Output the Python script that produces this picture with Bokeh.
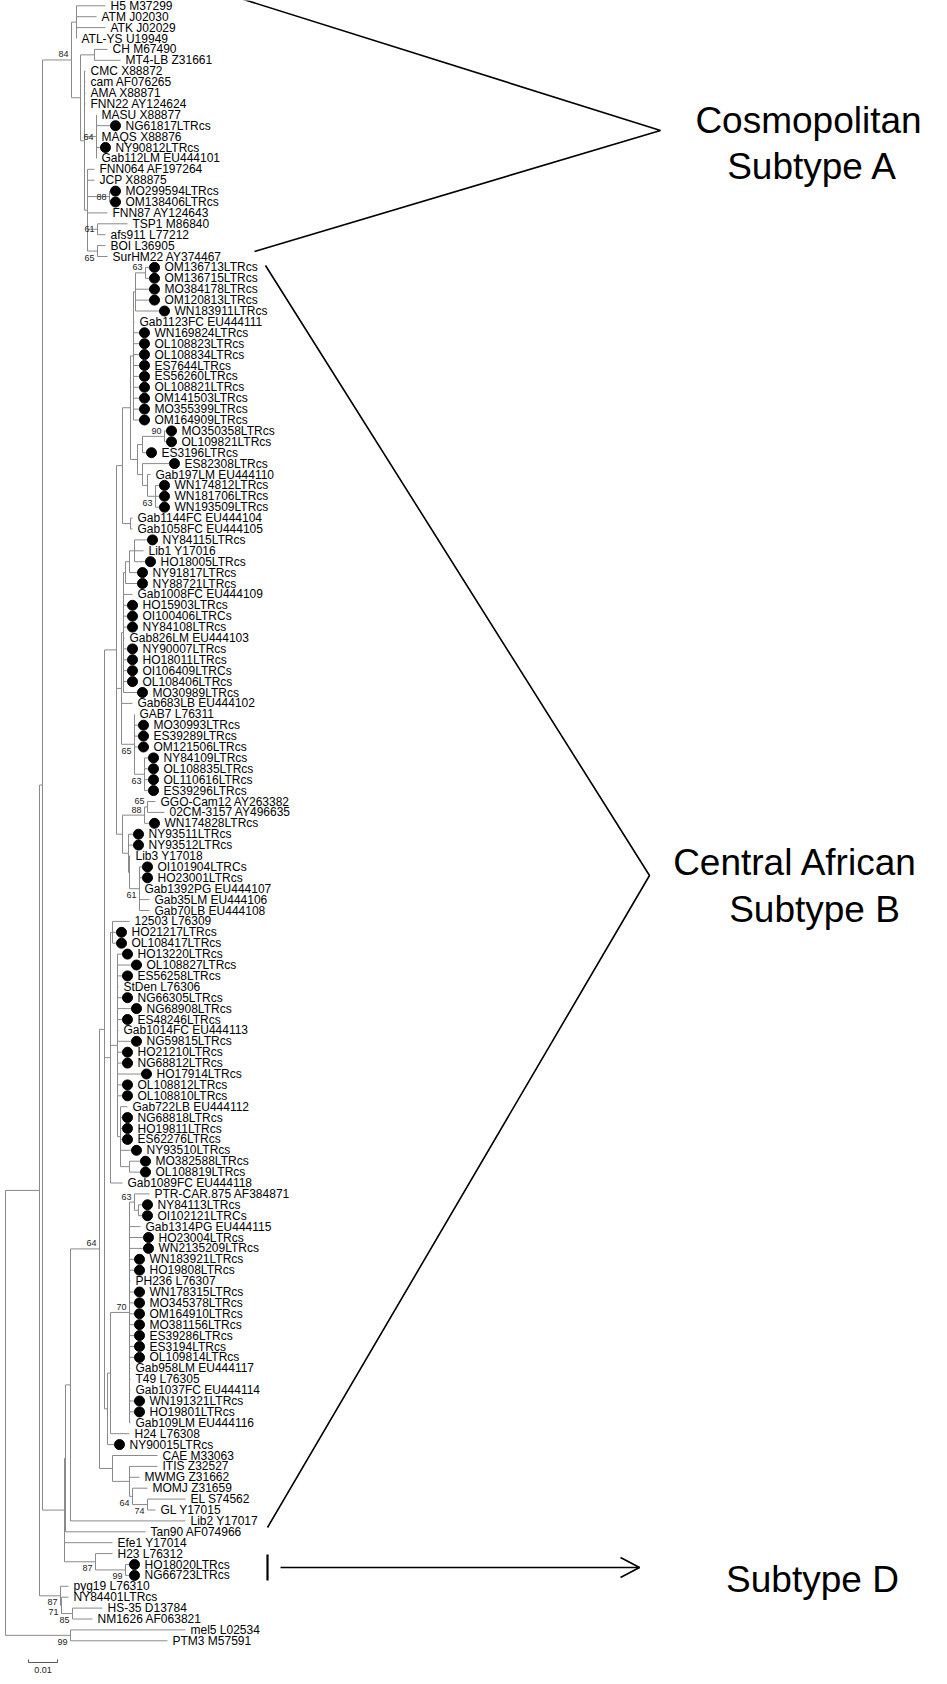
from bokeh.plotting import figure
from bokeh.models import Range1d
from bokeh.embed import file_html
from bokeh.resources import INLINE
from bokeh.core.properties import value

# ---------------- data ----------------
# tips: label, depth from root (units: 0.01 subst./site = 29 units), parent node, filled-circle marker
leaf_labels = [
    "H5 M37299", "ATM J02030", "ATK J02029", "ATL-YS U19949", "CH M67490", "MT4-LB Z31661",
    "CMC X88872", "cam AF076265", "AMA X88871", "FNN22 AY124624", "MASU X88877", "NG61817LTRcs",
    "MAQS X88876", "NY90812LTRcs", "Gab112LM EU444101", "FNN064 AF197264", "JCP X88875",
    "MO299594LTRcs", "OM138406LTRcs", "FNN87 AY124643", "TSP1 M86840", "afs911 L77212",
    "BOI L36905", "SurHM22 AY374467", "OM136713LTRcs", "OM136715LTRcs", "MO384178LTRcs",
    "OM120813LTRcs", "WN183911LTRcs", "Gab1123FC EU444111", "WN169824LTRcs", "OL108823LTRcs",
    "OL108834LTRcs", "ES7644LTRcs", "ES56260LTRcs", "OL108821LTRcs", "OM141503LTRcs",
    "MO355399LTRcs", "OM164909LTRcs", "MO350358LTRcs", "OL109821LTRcs", "ES3196LTRcs",
    "ES82308LTRcs", "Gab197LM EU444110", "WN174812LTRcs", "WN181706LTRcs", "WN193509LTRcs",
    "Gab1144FC EU444104", "Gab1058FC EU444105", "NY84115LTRcs", "Lib1 Y17016", "HO18005LTRcs",
    "NY91817LTRcs", "NY88721LTRcs", "Gab1008FC EU444109", "HO15903LTRcs", "OI100406LTRCs",
    "NY84108LTRcs", "Gab826LM EU444103", "NY90007LTRcs", "HO18011LTRcs", "OI106409LTRCs",
    "OL108406LTRcs", "MO30989LTRcs", "Gab683LB EU444102", "GAB7 L76311", "MO30993LTRcs",
    "ES39289LTRcs", "OM121506LTRcs", "NY84109LTRcs", "OL108835LTRcs", "OL110616LTRcs",
    "ES39296LTRcs", "GGO-Cam12 AY263382", "02CM-3157 AY496635", "WN174828LTRcs",
    "NY93511LTRcs", "NY93512LTRcs", "Lib3 Y17018", "OI101904LTRCs", "HO23001LTRcs",
    "Gab1392PG EU444107", "Gab35LM EU444106", "Gab70LB EU444108", "12503 L76309",
    "HO21217LTRcs", "OL108417LTRcs", "HO13220LTRcs", "OL108827LTRcs", "ES56258LTRcs",
    "StDen L76306", "NG66305LTRcs", "NG68908LTRcs", "ES48246LTRcs", "Gab1014FC EU444113",
    "NG59815LTRcs", "HO21210LTRcs", "NG68812LTRcs", "HO17914LTRcs", "OL108812LTRcs",
    "OL108810LTRcs", "Gab722LB EU444112", "NG68818LTRcs", "HO19811LTRcs", "ES62276LTRcs",
    "NY93510LTRcs", "MO382588LTRcs", "OL108819LTRcs", "Gab1089FC EU444118",
    "PTR-CAR.875 AF384871", "NY84113LTRcs", "OI102121LTRCs", "Gab1314PG EU444115",
    "HO23004LTRcs", "WN2135209LTRcs", "WN183921LTRcs", "HO19808LTRcs", "PH236 L76307",
    "WN178315LTRcs", "MO345378LTRcs", "OM164910LTRcs", "MO381156LTRcs", "ES39286LTRcs",
    "ES3194LTRcs", "OL109814LTRcs", "Gab958LM EU444117", "T49 L76305", "Gab1037FC EU444114",
    "WN191321LTRcs", "HO19801LTRcs", "Gab109LM EU444116", "H24 L76308", "NY90015LTRcs",
    "CAE M33063", "ITIS Z32527", "MWMG Z31662", "MOMJ Z31659", "EL S74562", "GL Y17015",
    "Lib2 Y17017", "Tan90 AF074966", "Efe1 Y17014", "H23 L76312", "HO18020LTRcs",
    "NG66723LTRcs", "pyg19 L76310", "NY84401LTRcs", "HS-35 D13784", "NM1626 AF063821",
    "mel5 L02534", "PTM3 M57591",
]
leaf_depth = [
    100, 91, 100, 71, 102, 115, 80, 80, 80, 80, 91, 105, 91, 95, 91, 89, 89, 105, 105, 102,
    122, 100, 100, 102, 144, 144, 144, 144, 154, 129, 134, 134, 134, 134, 134, 134, 134, 134,
    134, 161, 161, 141, 164, 145, 154, 154, 154, 127, 127, 142, 138, 140, 132, 132, 127, 122,
    122, 122, 119, 122, 122, 122, 122, 132, 127, 129, 133, 133, 133, 143, 143, 143, 143, 150,
    159, 144, 128, 128, 125, 137, 137, 134, 144, 144, 124, 111, 111, 117, 126, 117, 113, 117,
    126, 117, 113, 126, 117, 117, 136, 117, 117, 122, 117, 117, 117, 126, 135, 135, 117, 144,
    137, 137, 135, 138, 138, 129, 129, 125, 129, 129, 129, 129, 129, 129, 129, 125, 125, 125,
    129, 129, 125, 124, 109, 152, 152, 134, 142, 180, 150, 180, 140, 107, 107, 124, 124, 63,
    63, 97, 87, 180, 162,
]
leaf_parent = [
    "a1", "a1", "a1", "a1", "c", "c", "d", "d", "d", "d", "e", "e", "e", "e", "e", "f", "f",
    "f88", "f88", "f", "f61", "f61", "f65", "f65", "n63a", "n63a", "Q1", "Q1", "Q1", "R", "R",
    "R", "R", "R", "R", "R", "R", "R", "R", "n90", "n90", "U1", "V0", "V1", "V2", "V2", "V2",
    "W", "W", "N1", "N1", "N1", "N2", "N3", "X1", "X1", "X1", "X1", "X1", "X1", "X1", "X1",
    "X1", "X1", "Y1", "n65", "n65", "n65", "n65", "n63b", "n63b", "n63b", "n63b", "G1", "G1",
    "G2", "L2", "L2", "L3", "n61", "n61", "n61", "n61", "n61", "M1", "M1", "M1", "P1", "P1",
    "P1", "P1", "P1", "P1", "P1", "P1", "P1", "P1", "P1", "P1", "P1", "P1", "P3", "P3", "P3",
    "P3", "P3", "P4", "P4", "W2", "n63c", "n63d", "n63d", "node70", "node70", "node70",
    "node70", "node70", "node70", "node70", "node70", "node70", "node70", "node70", "node70",
    "node70", "node70", "node70", "node70", "node70", "node70", "node70", "H2", "Hgrp", "CAEn",
    "ITN", "ITN", "MOM", "ELG", "ELG", "E", "F", "C", "H23n", "D99", "D99", "P", "N71", "N85",
    "N85", "M99", "M99",
]
leaf_marker = [
    0, 0, 0, 0, 0, 0, 0, 0, 0, 0, 0, 1, 0, 1, 0, 0, 0, 1, 1, 0, 0, 0, 0, 0, 1, 1, 1, 1, 1, 0,
    1, 1, 1, 1, 1, 1, 1, 1, 1, 1, 1, 1, 1, 0, 1, 1, 1, 0, 0, 1, 0, 1, 1, 1, 0, 1, 1, 1, 0, 1,
    1, 1, 1, 1, 0, 0, 1, 1, 1, 1, 1, 1, 1, 0, 0, 1, 1, 1, 0, 1, 1, 0, 0, 0, 0, 1, 1, 1, 1, 1,
    0, 1, 1, 1, 0, 1, 1, 1, 1, 1, 1, 0, 1, 1, 1, 1, 1, 1, 0, 0, 1, 1, 0, 1, 1, 1, 1, 0, 1, 1,
    1, 1, 1, 1, 1, 0, 0, 0, 1, 1, 0, 0, 1, 0, 0, 0, 0, 0, 0, 0, 0, 0, 0, 1, 1, 0, 0, 0, 0, 0,
    0,
]

# internal nodes: name, depth, parent, bootstrap support
node_names = [
    "root", "B", "A", "N84", "a1", "b", "c", "d", "e", "f", "f88", "f61", "f65", "C", "F", "E",
    "N64", "T", "S3", "S2", "S", "R", "Q1", "n63a", "U", "U1", "n90", "V0", "V1", "V2", "W",
    "Y1", "X1", "N3", "N2", "N1", "n65", "n63b", "K1", "G2", "G1", "L2", "L3", "n61", "W2",
    "M1", "P1", "P3", "P4", "Hgrp", "H2", "node70", "n63c", "n63d", "CAEn", "ITN", "MOM",
    "ELG", "H23n", "D99", "P", "N71", "N85", "M99",
]
node_depth = [
    0, 34, 37, 66, 71, 75, 89, 79, 91, 82, 104, 92, 92, 59, 60, 65,
    94, 99, 111, 117, 125, 128, 130, 140, 132, 137, 159, 137, 142, 150, 125,
    116, 118, 120, 124, 129, 129, 139, 117, 139, 142, 123, 124, 134, 105,
    107, 112, 115, 124, 102, 105, 124, 129, 133, 107, 124, 127,
    142, 90, 120, 55, 56, 67, 65,
]
node_parent = [
    None, "root", "B", "A", "N84", "N84", "b", "b", "d", "d", "f", "f", "f", "A", "C", "F",
    "E", "N64", "T", "S3", "S2", "S", "R", "Q1", "S", "U", "U1", "U", "V0", "V1", "S2",
    "S3", "Y1", "X1", "N3", "N2", "Y1", "n65", "S3", "K1", "G2", "K1", "L2", "L3", "T",
    "W2", "W2", "P1", "P3", "T", "Hgrp", "H2", "node70", "n63c", "N64", "CAEn", "ITN",
    "MOM", "C", "H23n", "B", "P", "N71", "root",
]
node_support = [
    "", "", "", "84", "", "", "", "", "64", "", "88", "61", "65", "", "", "",
    "64", "", "", "", "", "", "", "63", "", "", "90", "", "", "63", "",
    "", "", "", "", "", "65", "63", "", "88", "65", "", "", "61", "",
    "", "", "", "", "", "", "70", "63", "", "", "", "64",
    "74", "87", "99", "87", "71", "85", "99",
]

scale_bar_label = "0.01"
scale_bar_length = 29          # depth units per 0.01 substitutions/site

group_labels = [["Cosmopolitan", "Subtype A"], ["Central African", "Subtype B"], ["Subtype D"]]

# ---------------- tree layout ----------------
depth, parent = {}, {}
children = {nm: [] for nm in node_names}
for nm, d, par in zip(node_names, node_depth, node_parent):
    depth[nm] = d
    parent[nm] = par
    if par is not None:
        children[par].append(nm)
for i, (d, par) in enumerate(zip(leaf_depth, leaf_parent)):
    k = ("leaf", i)
    depth[k] = d
    parent[k] = par
    children[par].append(k)

ypos = {}
def gety(k):
    if k in ypos:
        return ypos[k]
    if isinstance(k, tuple):
        y = float(k[1])
    else:
        ys = [gety(c) for c in children[k]]
        y = (min(ys) + max(ys)) / 2.0
    ypos[k] = y
    return y

for k in list(depth.keys()):
    gety(k)

x0s, y0s, x1s, y1s = [], [], [], []
for k, par in parent.items():
    if par is None:
        continue
    x0s.append(depth[par]); x1s.append(depth[k]); y0s.append(ypos[k]); y1s.append(ypos[k])
for nm in node_names:
    ys = [ypos[c] for c in children[nm]]
    x0s.append(depth[nm]); x1s.append(depth[nm]); y0s.append(min(ys)); y1s.append(max(ys))

# screen helpers (1 depth unit = 1 px; 1 row = 10.9 px)
ROW = 10.9
def fx(px):
    return px - 13.0
def fy(py):
    return (py - 13.3) / ROW

W, H = 931, 1676
p = figure(width=W, height=H, output_backend="svg", toolbar_location=None,
           x_range=Range1d(8 - 13.0, 8 - 13.0 + W),
           y_range=Range1d(start=(8 + H - 13.3) / ROW, end=(8 - 13.3) / ROW),
           min_border=0)
p.axis.visible = False
p.grid.visible = False
p.outline_line_color = None
p.background_fill_color = "white"
p.border_fill_color = "white"

p.segment(x0=x0s, y0=y0s, x1=x1s, y1=y1s, line_color="#8a8a8a", line_width=1)

# markers
mx = [leaf_depth[i] + 5 for i in range(len(leaf_labels)) if leaf_marker[i]]
my = [float(i) for i in range(len(leaf_labels)) if leaf_marker[i]]
p.scatter(x=mx, y=my, size=10, marker="circle", fill_color="black", line_color="black")

# leaf labels
lx = [leaf_depth[i] + (15 if leaf_marker[i] else 5) for i in range(len(leaf_labels))]
ly = [float(i) for i in range(len(leaf_labels))]
p.text(x=lx, y=ly, text=leaf_labels, text_font=value("Liberation Sans"),
       text_font_size="12px", text_baseline="middle", text_align="left", text_color="black")

# bootstrap supports
sx, sy, st = [], [], []
for nm, sup in zip(node_names, node_support):
    if not sup:
        continue
    par = parent[nm]
    sib = [ypos[c] for c in children[par]]
    y = ypos[nm]
    off = 0.0
    if y == min(sib):
        off = -5.5 / ROW
    elif y == max(sib):
        off = 6.5 / ROW
    sx.append(depth[nm] - 3); sy.append(y + off); st.append(sup)
p.text(x=sx, y=sy, text=st, text_font=value("Liberation Sans"), text_font_size="9px",
       text_baseline="middle", text_align="right", text_color="#222222")

# scale bar
sb_y = fy(1670)
p.segment(x0=[fx(36)], y0=[sb_y], x1=[fx(36) + scale_bar_length], y1=[sb_y], line_color="#555555", line_width=1)
p.segment(x0=[fx(36), fx(36) + scale_bar_length], y0=[fy(1667), fy(1667)],
          x1=[fx(36), fx(36) + scale_bar_length], y1=[sb_y, sb_y], line_color="#555555", line_width=1)
p.text(x=[fx(36) + scale_bar_length / 2], y=[fy(1677)], text=[scale_bar_label],
       text_font=value("Liberation Sans"), text_font_size="9px", text_baseline="middle",
       text_align="center", text_color="#222222")

# group brackets
def seg(pts, w=1.6):
    p.line(x=[fx(a) for a, b in pts], y=[fy(b) for a, b in pts], line_color="black", line_width=w)

seg([(248, 6), (668, 138), (262, 259)])
seg([(273, 273), (657, 883), (275, 1535)])
seg([(275, 1562), (275, 1588)], 2.2)
seg([(288, 1575), (647, 1575)])
seg([(628, 1565), (647, 1575), (628, 1585)])

gx = [816, 820, 803, 822, 820]
gy = [128, 174, 870, 917, 1587]
gt = group_labels[0] + group_labels[1] + group_labels[2]
p.text(x=[fx(v) for v in gx], y=[fy(v) for v in gy], text=gt,
       text_font=value("Liberation Sans"), text_font_size="37px", text_baseline="middle",
       text_align="center", text_color="black")

open("out.html", "w").write(file_html(p, INLINE))
